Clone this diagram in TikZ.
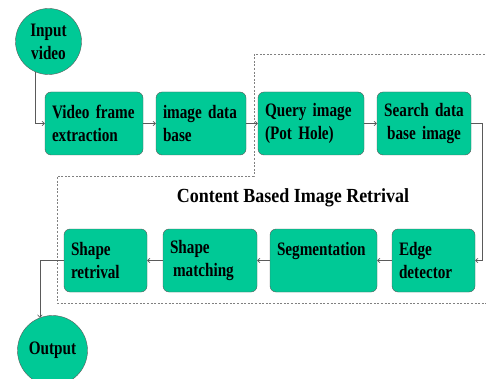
\documentclass[tikz,border=0pt]{standalone}
\usepackage{fontspec}
\setmainfont{Liberation Serif}[FakeStretch=0.8]
\newfontfamily\titlefont{Liberation Serif}[FakeStretch=0.9]
\usepackage{tikz}
\usetikzlibrary{arrows.meta,calc}
\definecolor{boxgreen}{RGB}{0,201,150}
\definecolor{linegray}{RGB}{90,90,90}
\tikzset{
  stage/.style={draw=linegray,fill=boxgreen,rounded corners=6pt,align=left,
    minimum height=63pt,inner xsep=7pt,inner ysep=2pt,
    font=\fontsize{19}{23}\selectfont\bfseries},
  term/.style={circle,draw=linegray,fill=boxgreen,inner sep=0pt,align=center,
    font=\fontsize{19}{23}\selectfont\bfseries},
  flow/.style={draw=linegray,line width=0.6pt,-{To[length=3pt,width=5pt]}},
}
\begin{document}
\begin{tikzpicture}[x=1pt,y=-1pt]
    \useasboundingbox (0,0) rectangle (486,379);

    % region of the retrieval stage
    \draw[gray,line width=0.7pt,dash pattern=on 2pt off 1.6pt]
      (492,54) -- (254,54) -- (254,176) -- (57,176) -- (57,303) -- (492,303);
    \node[font=\titlefont\fontsize{20}{24}\selectfont\bfseries](cbir) at (293,198)
      {Content Based Image Retrival};

    % upper row
    \node[term,minimum size=66pt](inp) at (48.5,41.5){Input\\video};
    \node[stage,text width=84pt](vfe) at (94,123.5){Video frame\\extraction};
    \node[stage,text width=76pt](idb) at (201,123.5){image data\\base};
    \node[stage,text width=92pt](qry) at (311,123.5){Query image\\(Pot Hole)};
    \node[stage,text width=80pt,align=center](sdb) at (424,123.5){Search data\\base image};

    % lower row
    \node[stage,text width=93pt](seg) at (323.5,260.5){Segmentation\\\mbox{}};
    \node[stage,text width=69pt](edg) at (433.5,260.5){Edge\\detector};
    \node[stage,text width=80pt](smt) at (210,260.5){Shape\\\hspace{3pt}matching};
    \node[stage,text width=69pt](srt) at (105.5,260.5){Shape\\retrival};
    \node[term,minimum size=70pt](out) at (52.5,350.5){Output};

    \draw[flow](inp.247) |- (vfe.west);
    \draw[flow](vfe) -- (idb);
    \draw[flow](idb) -- (qry);
    \draw[flow](qry) -- (sdb);
    \draw[flow](sdb.east) -- ++(11,0) |- (edg.east);
    \draw[flow](edg) -- (seg);
    \draw[flow](seg) -- (smt);
    \draw[flow](smt) -- (srt);
    \draw[flow](srt.west) -| (out.111);
\end{tikzpicture}
\end{document}
